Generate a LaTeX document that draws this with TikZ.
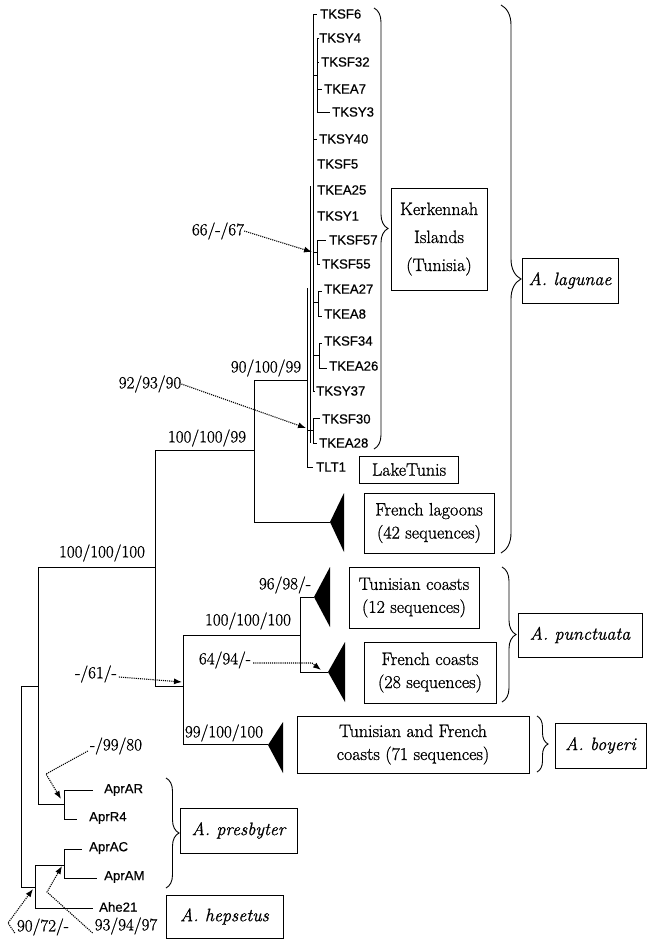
\documentclass[tikz,border=0pt]{standalone}
\usepackage{fontspec}
\setmainfont{Latin Modern Roman}[FakeBold=0.9]
\newfontfamily\taxfont{Liberation Sans}[FakeBold=0.6]
\usetikzlibrary{arrows.meta,decorations.pathreplacing}
\begin{document}
\begin{tikzpicture}[x=1pt,y=-1pt,
  br/.style={line width=0.9pt},
  tax/.style={anchor=west, inner sep=0pt, font=\taxfont\fontsize{13.2}{15}\selectfont},
  sup/.style={inner sep=0pt, font=\fontsize{17}{19}\selectfont},
  box/.style={draw, line width=0.9pt, align=center, inner sep=0pt, font=\fontsize{18}{23}\selectfont},
  spbox/.style={box, font=\fontsize{18}{23}\selectfont\itshape},
  brc/.style={decorate, decoration={brace, amplitude=#1}, line width=0.9pt},
  tri/.style={fill=black},
  dotarrow/.style={densely dotted, line width=1.1pt, -{Latex[length=8pt,width=6pt]}}]
\useasboundingbox (0,0) rectangle (651,948);

% ---------- leaf labels ----------
\node[tax] (TKSFsix)   at (320,14)  {TKSF6};
\node[tax] (TKSYfour)  at (319,38)  {TKSY4};
\node[tax] (TKSFtt)    at (321,62)  {TKSF32};
\node[tax] (TKEAseven) at (324,89)  {TKEA7};
\node[tax] (TKSYthree) at (332,112) {TKSY3};
\node[tax] (TKSYforty) at (319,139) {TKSY40};
\node[tax] (TKSFfive)  at (317,164) {TKSF5};
\node[tax] (TKEAtf)    at (317,190) {TKEA25};
\node[tax] (TKSYone)   at (317,216) {TKSY1};
\node[tax] (TKSFfs)    at (329,240) {TKSF57};
\node[tax] (TKSFff)    at (322,264) {TKSF55};
\node[tax] (TKEAts)    at (324,289) {TKEA27};
\node[tax] (TKEAeight) at (324,314) {TKEA8};
\node[tax] (TKSFtf)    at (324,341) {TKSF34};
\node[tax] (TKEAtsix)  at (329,366) {TKEA26};
\node[tax] (TKSYts)    at (316,391) {TKSY37};
\node[tax] (TKSFthirty) at (322,419) {TKSF30};
\node[tax] (TKEAte)    at (319,443) {TKEA28};
\node[tax] (TLTone)    at (316,467) {TLT1};
\node[tax] (AprAR)     at (104,790) {AprAR};
\node[tax] (AprRfour)  at (89,818)  {AprR4};
\node[tax] (AprAC)     at (89,848)  {AprAC};
\node[tax] (AprAM)     at (104,877) {AprAM};
\node[tax] (Ahe)       at (99,907)  {Ahe21};

% ---------- Kerkennah subtree ----------
\draw[br] (313,14) -- (313,391);
\draw[br] (313,14) -- (317,14);
\draw[br] (313,75) -- (317,75);
\draw[br] (317,38) -- (317,112);
\draw[br] (317,38) -- (319,38);
\draw[br] (317,62) -- (319,62);
\draw[br] (317,89) -- (322,89);
\draw[br] (317,112) -- (330,112);
\draw[br] (313,139) -- (317,139);
\draw[br] (310,186) -- (310,443);
\draw[br] (313,252) -- (317,252);
\draw[br] (317,240) -- (317,264);
\draw[br] (317,240) -- (326,240);
\draw[br] (317,264) -- (320,264);
\draw[br] (313,302) -- (318,302);
\draw[br] (318,291) -- (318,316);
\draw[br] (318,291) -- (322,291);
\draw[br] (318,316) -- (322,316);
\draw[br] (313,355) -- (319,355);
\draw[br] (319,343) -- (319,368);
\draw[br] (319,343) -- (322,343);
\draw[br] (319,368) -- (327,368);
\draw[br] (313,391) -- (315,391);
\draw[br] (307,288) -- (307,467);
\draw[br] (307,430) -- (313,430);
\draw[br] (313,418) -- (313,443);
\draw[br] (313,418) -- (320,418);
\draw[br] (313,443) -- (317,443);
\draw[br] (307,467) -- (313,467);

% ---------- backbone ----------
\draw[br] (254,380) -- (307,380);
\draw[br] (254,380) -- (254,522) -- (330,522);
\draw[br] (155,450) -- (254,450);
\draw[br] (155,450) -- (155,686) -- (183,686);
\draw[br] (183,635) -- (183,744) -- (268,744);
\draw[br] (183,635) -- (300,635);
\draw[br] (300,597) -- (300,672);
\draw[br] (300,597) -- (314,597);
\draw[br] (300,672) -- (328,672);
\draw[br] (38,567) -- (155,567);
\draw[br] (38,567) -- (38,804) -- (64,804);
\draw[br] (21,686) -- (38,686);
\draw[br] (21,686) -- (21,887) -- (35,887);
\draw[br] (64,790) -- (64,819);
\draw[br] (64,790) -- (93,790);
\draw[br] (64,819) -- (77,819);
\draw[br] (35,865) -- (35,908) -- (93,908);
\draw[br] (35,865) -- (64,865);
\draw[br] (64,849) -- (64,878);
\draw[br] (64,849) -- (82,849);
\draw[br] (64,878) -- (97,878);

% ---------- collapsed clades ----------
\fill[tri] (330,522) -- (344,493) -- (344,552) -- cycle;
\fill[tri] (314,597) -- (330,567) -- (330,627) -- cycle;
\fill[tri] (328,672) -- (345,642) -- (345,702) -- cycle;
\fill[tri] (268,745) -- (283,722) -- (283,773) -- cycle;

% ---------- support values ----------
\node[sup] (sA) at (218,231) {66/-/67};
\node[sup] (sB) at (150,384) {92/93/90};
\node[sup] (sC) at (266,368) {90/100/99};
\node[sup] (sD) at (207,438) {100/100/99};
\node[sup] (sE) at (102,553) {100/100/100};
\node[sup] (sF) at (285,585) {96/98/-};
\node[sup] (sG) at (248,621) {100/100/100};
\node[sup] (sH) at (225,660) {64/94/-};
\node[sup] (sI) at (96,674)  {-/61/-};
\node[sup] (sJ) at (224,733) {99/100/100};
\node[sup] (sK) at (116,746) {-/99/80};
\node[sup] (sL) at (43,927)  {90/72/-};
\node[sup] (sM) at (126,926) {93/94/97};

% ---------- dotted pointers ----------
\coordinate (tA) at (312,252);
\coordinate (tB) at (306,428);
\coordinate (tI) at (182,682);
\coordinate (tH) at (321,670);
\coordinate (tK) at (61,799);
\coordinate (tL) at (33,889);
\coordinate (tM) at (62,866);
\draw[dotarrow] (sA.east) -- (tA);
\draw[dotarrow] (sB.east) -- (tB);
\draw[dotarrow] (sI.east) ++(2,3) -- (tI);
\draw[dotarrow] (sH.east) ++(2,3) -- (312,663) -- (tH);
\draw[dotarrow] (sK.west) ++(-2,5) -- (46,774) -- (tK);
\draw[dotarrow] (sL.west) ++(-2,6) -- (8,923) -- (tL);
\draw[dotarrow] (sM.west) ++(-2,7) -- (47,892) -- (tM);

% ---------- boxes ----------
\node[box, font=\fontsize{18}{28}\selectfont, minimum width=96, minimum height=102] (kerk) at (439,239) {Kerkennah\\Islands\\(Tunisia)};
\node[box, minimum width=99, minimum height=27] (lake) at (409,469.5) {LakeTunis};
\node[box, minimum width=130, minimum height=60] (flag) at (429,523) {French lagoons\\(42 sequences)};
\node[box, minimum width=130, minimum height=61] (tunc) at (414,597.5) {Tunisian coasts\\(12 sequences)};
\node[box, minimum width=132, minimum height=61] (frc) at (430,672.5) {French coasts\\(28 sequences)};
\node[box, minimum width=232, minimum height=57] (tfc) at (413,744.5) {Tunisian and French\\coasts (71 sequences)};
\node[spbox, minimum width=96, minimum height=45] (lag) at (570,280.5) {A. lagunae};
\node[spbox, minimum width=124, minimum height=44] (pun) at (580,635) {A. punctuata};
\node[spbox, minimum width=91, minimum height=45] (boy) at (600.5,745.5) {A. boyeri};
\node[spbox, minimum width=117, minimum height=45] (pres) at (238.5,830.5) {A. presbyter};
\node[spbox, minimum width=117, minimum height=43] (heps) at (224.5,916.5) {A. hepsetus};

% ---------- braces ----------
\draw[brc=14pt] (374,8) -- (374,449);
\draw[brc=20pt] (501,5) -- (501,553);
\draw[brc=14pt] (502,567) -- (502,702);
\draw[brc=11pt] (537,716) -- (537,772);
\draw[brc=13pt] (166,778) -- (166,888);
\end{tikzpicture}
\end{document}
